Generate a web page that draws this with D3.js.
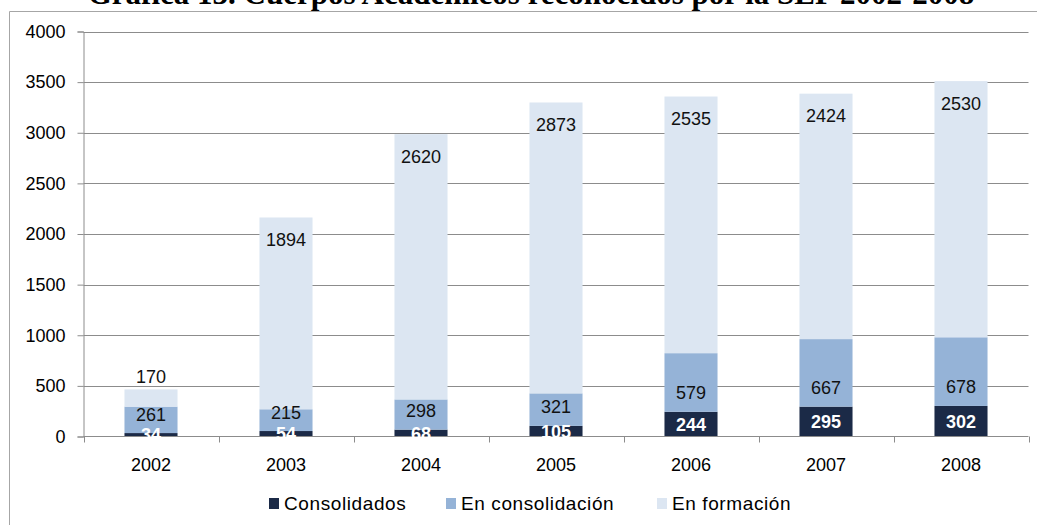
<!DOCTYPE html>
<html lang="es">
<head>
  <meta charset="UTF-8">
  <title>Cuerpos Académicos</title>
  <style>
    body { margin: 0; background: #fff; overflow: hidden; }
    svg { display: block; }
    text { font-family: "Liberation Sans", Arial, sans-serif; }
  </style>
</head>
<body>
  <svg width="1037" height="525"></svg>
  <script src="https://d3js.org/d3.v7.min.js"></script>
  <script>
    // data
    const years = ["2002", "2003", "2004", "2005", "2006", "2007", "2008"];
    const consolidados = [34, 54, 68, 105, 244, 295, 302];
    const enConsolidacion = [261, 215, 298, 321, 579, 667, 678];
    const enFormacion = [170, 1894, 2620, 2873, 2535, 2424, 2530];
    const seriesNames = ["Consolidados", "En consolidación", "En formación"];
    const yTicks = [0, 500, 1000, 1500, 2000, 2500, 3000, 3500, 4000];

    const colors = ["#1b2a47", "#95b3d7", "#dce6f2"];

    const svg = d3.select("svg");

    // title (cut off at the top in the original picture)
    svg.append("text")
      .attr("x", 531).attr("y", 4)
      .attr("text-anchor", "middle")
      .style("font-family", "'Liberation Serif', 'Times New Roman', serif")
      .style("font-weight", "bold")
      .style("font-size", "31px")
      .text("Gráfica 13. Cuerpos Académicos reconocidos por la SEP 2002-2008");

    // chart area border
    svg.append("path")
      .attr("d", "M9.5,530 L9.5,11.5 L1040,11.5")
      .attr("fill", "none")
      .attr("stroke", "#a6a6a6");

    const plotLeft = 83.5, plotRight = 1028.5, plotTop = 31.5, plotBottom = 436.5;

    const x = d3.scaleBand().domain(years).range([plotLeft, plotRight]).paddingInner(0.607).paddingOuter(0.3035);
    const band = d3.scaleBand().domain(years).range([plotLeft, plotRight]);
    const y = d3.scaleLinear().domain([0, 4000]).range([plotBottom, plotTop]);

    // gridlines
    svg.append("g").selectAll("line").data(yTicks.slice(1)).join("line")
      .attr("x1", plotLeft).attr("x2", plotRight)
      .attr("y1", d => Math.round(y(d)) + 0.5).attr("y2", d => Math.round(y(d)) + 0.5)
      .attr("stroke", "#8c8c8c");

    // y axis
    const yAxis = svg.append("g")
      .attr("transform", `translate(${plotLeft},0)`)
      .call(d3.axisLeft(y).tickValues(yTicks).tickSize(6).tickPadding(12).tickFormat(d3.format("d")));
    yAxis.select(".domain").attr("stroke", "#8c8c8c");
    yAxis.selectAll(".tick line").attr("stroke", "#8c8c8c");
    yAxis.selectAll(".tick text").style("font-size", "18px").attr("fill", "#000");

    // stacked bars
    const rows = years.map((yr, i) => ({
      year: yr, c: consolidados[i], ec: enConsolidacion[i], ef: enFormacion[i]
    }));
    const stack = d3.stack().keys(["c", "ec", "ef"])(rows);

    const layers = svg.append("g").selectAll("g").data(stack).join("g")
      .attr("fill", (d, i) => colors[i]);
    layers.selectAll("rect").data(d => d).join("rect")
      .attr("x", d => x(d.data.year))
      .attr("width", x.bandwidth())
      .attr("y", d => y(d[1]))
      .attr("height", d => y(d[0]) - y(d[1]));

    // x axis
    const xAxisG = svg.append("g").attr("transform", `translate(0,${plotBottom})`);
    xAxisG.append("line").attr("x1", plotLeft).attr("x2", plotRight).attr("stroke", "#8c8c8c");
    xAxisG.selectAll("line.tk").data(years.concat(["end"])).join("line")
      .attr("class", "tk")
      .attr("x1", (d, i) => Math.round(plotLeft + i * band.step()) + 0.5)
      .attr("x2", (d, i) => Math.round(plotLeft + i * band.step()) + 0.5)
      .attr("y1", 0).attr("y2", 6)
      .attr("stroke", "#8c8c8c");
    xAxisG.selectAll("text").data(years).join("text")
      .attr("x", d => band(d) + band.bandwidth() / 2)
      .attr("y", 34)
      .attr("text-anchor", "middle")
      .style("font-size", "18px")
      .text(d => d);

    // data labels
    const labels = svg.append("g").style("font-size", "18px").attr("text-anchor", "middle");
    stack[0].forEach(d => {
      labels.append("text")
        .attr("x", x(d.data.year) + x.bandwidth() / 2)
        .attr("y", (y(d[0]) + y(d[1])) / 2)
        .attr("dy", "0.36em")
        .attr("fill", "#fff")
        .style("font-weight", "bold")
        .text(d.data.c);
    });
    stack[1].forEach(d => {
      labels.append("text")
        .attr("x", x(d.data.year) + x.bandwidth() / 2)
        .attr("y", y(d[0]) - 19)
        .attr("dy", "0.36em")
        .attr("fill", "#111")
        .text(d.data.ec);
    });
    stack[2].forEach(d => {
      const h = y(d[0]) - y(d[1]);
      labels.append("text")
        .attr("x", x(d.data.year) + x.bandwidth() / 2)
        .attr("y", h > 30 ? y(d[1]) + 22 : y(d[1]) - 13)
        .attr("dy", "0.36em")
        .attr("fill", "#111")
        .text(d.data.ef);
    });

    // legend
    const legendX = [269, 446, 657];
    const legend = svg.append("g").selectAll("g").data(seriesNames).join("g")
      .attr("transform", (d, i) => `translate(${legendX[i]},503)`);
    legend.append("rect")
      .attr("x", 0).attr("y", -5).attr("width", 10).attr("height", 11)
      .attr("fill", (d, i) => colors[i]);
    legend.append("text")
      .attr("x", 15).attr("dy", "0.36em")
      .style("font-size", "19px")
      .style("letter-spacing", "0.6px")
      .text(d => d);
  </script>
</body>
</html>
